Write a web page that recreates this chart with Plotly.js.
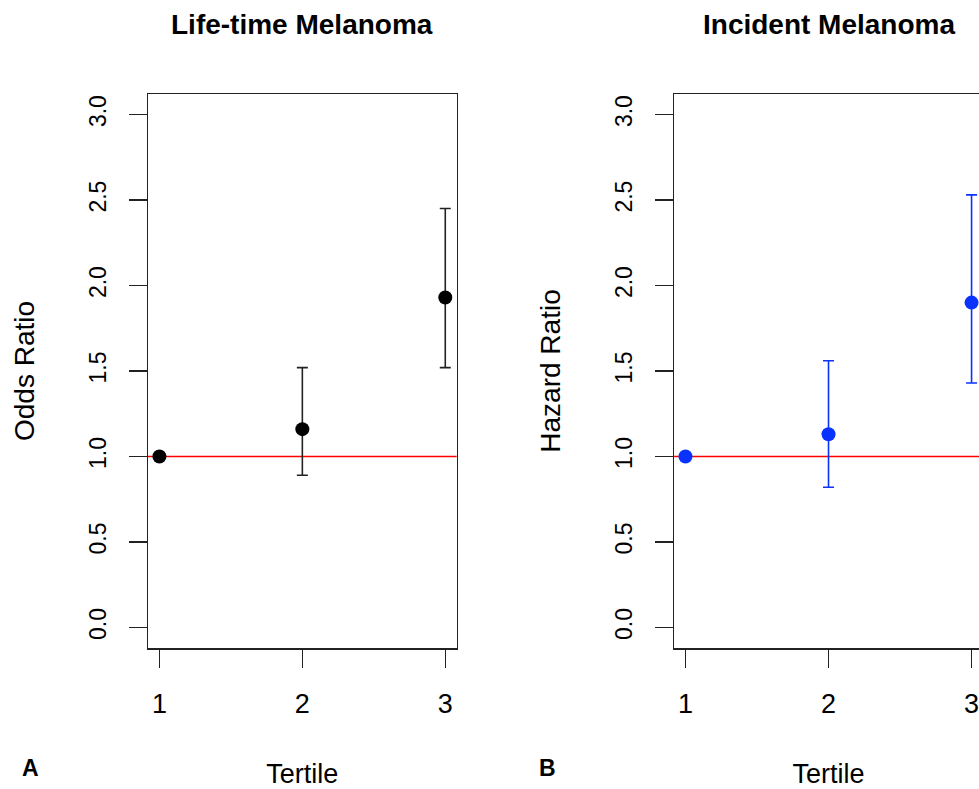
<!DOCTYPE html>
<html><head><meta charset="utf-8">
<script src="https://cdn.plot.ly/plotly-3.0.1.min.js"></script>
<style>html,body{margin:0;padding:0;overflow:hidden;background:#fff}#chart{width:984px;height:789px}</style>
</head><body><div id="chart"></div>
<script>
const tertiles = [1, 2, 3];
const lifetimeOR = [1.00, 1.16, 1.93];
const lifetimeLower = [1.00, 0.89, 1.52];
const lifetimeUpper = [1.00, 1.52, 2.45];
const incidentHR = [1.00, 1.13, 1.90];
const incidentLower = [1.00, 0.82, 1.43];
const incidentUpper = [1.00, 1.56, 2.53];
const yTickValues = [0, 0.5, 1, 1.5, 2, 2.5, 3];
const yTickLabels = ["0.0", "0.5", "1.0", "1.5", "2.0", "2.5", "3.0"];
const panelTitles = ["Life-time Melanoma", "Incident Melanoma"];
const panelLetters = ["A", "B"];
const yTitles = ["Odds Ratio", "Hazard Ratio"];
const xTitle = "Tertile";
const referenceValue = 1;

const FONT = "Liberation Sans, Arial, sans-serif";
const INK = "#222222";
const BLUE = "#0a32ff";

function diff(a, b) { return a.map((v, i) => v - b[i]); }

const traces = [
  {
    x: tertiles, y: lifetimeOR, xaxis: "x", yaxis: "y", type: "scatter", mode: "markers",
    marker: {color: "#000000", size: 14},
    error_y: {type: "data", symmetric: false, array: diff(lifetimeUpper, lifetimeOR),
              arrayminus: diff(lifetimeOR, lifetimeLower), color: INK, thickness: 1.6, width: 5.5},
    showlegend: false, hoverinfo: "x+y"
  },
  {
    x: tertiles, y: incidentHR, xaxis: "x2", yaxis: "y2", type: "scatter", mode: "markers",
    marker: {color: BLUE, size: 14},
    error_y: {type: "data", symmetric: false, array: diff(incidentUpper, incidentHR),
              arrayminus: diff(incidentHR, incidentLower), color: BLUE, thickness: 1.6, width: 5.5},
    showlegend: false, hoverinfo: "x+y"
  }
];

function xAxis(domain, anchor) {
  return {
    domain: domain, anchor: anchor, range: [0.92, 3.08], tickvals: tertiles,
    ticks: "outside", ticklen: 18, tickwidth: 1.5, tickcolor: INK, ticklabelstandoff: 13,
    showline: true, mirror: true, linecolor: INK, linewidth: 1.5,
    showgrid: false, zeroline: false,
    tickfont: {family: FONT, size: 27, color: "#000"},
    title: {text: xTitle, font: {family: FONT, size: 27, color: "#000"}, standoff: 46}
  };
}
function yAxis(anchor, title) {
  return {
    domain: [0, 1], anchor: anchor, range: [-0.12, 3.12],
    tickvals: yTickValues, ticktext: yTickLabels, tickangle: -90,
    ticks: "outside", ticklen: 18, tickwidth: 1.5, tickcolor: INK, ticklabelstandoff: 13,
    showline: true, mirror: true, linecolor: INK, linewidth: 1.5,
    showgrid: false, zeroline: false,
    tickfont: {family: FONT, size: 23, color: "#000"},
    title: {text: title, font: {family: FONT, size: 28, color: "#000"}, standoff: 42}
  };
}

const layout = {
  width: 984, height: 789,
  margin: {l: 148, r: 1, t: 94, b: 141},
  paper_bgcolor: "#ffffff", plot_bgcolor: "#ffffff",
  font: {family: FONT, color: "#000"},
  xaxis: xAxis([0, 0.3697], "y"),
  yaxis: yAxis("x", yTitles[0]),
  xaxis2: xAxis([0.63, 1], "y2"),
  yaxis2: yAxis("x2", yTitles[1]),
  shapes: [
    {type: "line", xref: "x domain", yref: "y", x0: 0, x1: 1, y0: referenceValue, y1: referenceValue,
     line: {color: "#ff0000", width: 1.5}, layer: "below"},
    {type: "line", xref: "x2 domain", yref: "y2", x0: 0, x1: 1, y0: referenceValue, y1: referenceValue,
     line: {color: "#ff0000", width: 1.5}, layer: "below"}
  ],
  annotations: [
    {text: "<b>" + panelTitles[0] + "</b>", xref: "x domain", yref: "y domain", x: 0.5, y: 1.125,
     xanchor: "center", yanchor: "middle", showarrow: false, font: {family: FONT, size: 28, color: "#000"}},
    {text: "<b>" + panelTitles[1] + "</b>", xref: "x2 domain", yref: "y2 domain", x: 0.5, y: 1.125,
     xanchor: "center", yanchor: "middle", showarrow: false, font: {family: FONT, size: 28, color: "#000"}},
    {text: "<b>" + panelLetters[0] + "</b>", xref: "paper", yref: "paper", x: -0.1413, y: -0.2166,
     xanchor: "center", yanchor: "middle", showarrow: false, font: {family: FONT, size: 23, color: "#000"}},
    {text: "<b>" + panelLetters[1] + "</b>", xref: "paper", yref: "paper", x: 0.479, y: -0.2166,
     xanchor: "center", yanchor: "middle", showarrow: false, font: {family: FONT, size: 23, color: "#000"}}
  ]
};

Plotly.newPlot("chart", traces, layout, {displayModeBar: false, staticPlot: true});
</script>
</body></html>
